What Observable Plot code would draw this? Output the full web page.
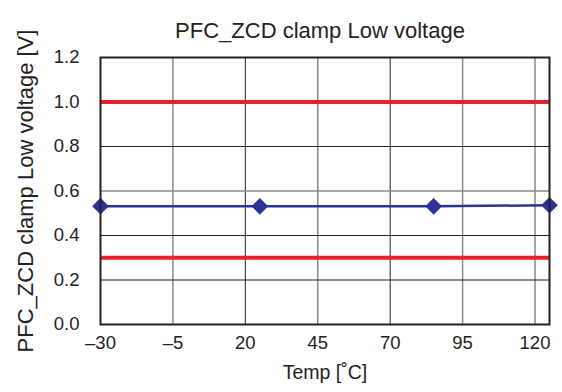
<!DOCTYPE html>
<html><head><meta charset="utf-8">
<script src="https://cdn.jsdelivr.net/npm/d3@7"></script>
<script src="https://cdn.jsdelivr.net/npm/@observablehq/plot@0.6"></script>
<style>body{margin:0;background:#fff;font-family:"Liberation Sans",Arial,sans-serif}</style>
</head><body><div id="chart"></div>
<script>
const temps = [-30, 25, 85, 125];
const voltages = [0.532, 0.531, 0.531, 0.536];
const limits = [1.0, 0.3];
const xTicks = [-30, -5, 20, 45, 70, 95, 120];
const yTicks = [0.0, 0.2, 0.4, 0.6, 0.8, 1.0, 1.2];
const grayX = [-5, 45, 95, 120];
const grayY = [0.6];
const title = "PFC_ZCD clamp Low voltage";
const xLabel = "Temp [˚C]";
const yLabel = "PFC_ZCD clamp Low voltage [V]";

const data = temps.map((t, i) => ({t, v: voltages[i]}));

const chart = Plot.plot({
  width: 562, height: 392,
  marginLeft: 100, marginRight: 13, marginTop: 57, marginBottom: 68,
  style: {fontFamily: "Liberation Sans, Arial, sans-serif", fontSize: "18px", color: "#222", background: "#fff"},
  x: {domain: [-30, 125]},
  y: {domain: [0, 1.2]},
  marks: [
    Plot.ruleX(xTicks.slice(1), {stroke: d => grayX.includes(d) ? "#8a8a8a" : "#222", strokeWidth: d => grayX.includes(d) ? 1.5 : 1}),
    Plot.ruleY(yTicks.slice(1, -1), {stroke: d => grayY.includes(d) ? "#8a8a8a" : "#222", strokeWidth: d => grayY.includes(d) ? 1.5 : 1}),
    Plot.ruleY(limits, {stroke: "#e8202a", strokeWidth: 4}),
    Plot.line(data, {x: "t", y: "v", stroke: "#2b3494", strokeWidth: 2.5}),
    Plot.dot(data, {x: "t", y: "v", symbol: "diamond2", r: 7.5, fill: "#2b3494", stroke: "none"}),
    Plot.frame({stroke: "#222", strokeWidth: 2}),
    Plot.axisX(xTicks, {tickSize: 0, tickPadding: 11, fontSize: 18.5, tickFormat: d => d < 0 ? "–" + Math.abs(d) : String(d), label: null}),
    Plot.axisY(yTicks, {tickSize: 0, tickPadding: 21, fontSize: 18.5, tickFormat: d => d.toFixed(1), label: null}),
    Plot.text([title], {frameAnchor: "top", dy: -35, dx: -5, fontSize: 22, fill: "#222"}),
    Plot.text([xLabel], {frameAnchor: "bottom", dy: 54, fontSize: 19.5, fill: "#222"}),
    Plot.text([yLabel], {frameAnchor: "left", dx: -75, rotate: -90, textAnchor: "middle", fontSize: 22, fill: "#222"})
  ]
});
document.getElementById("chart").appendChild(chart);
</script></body></html>
